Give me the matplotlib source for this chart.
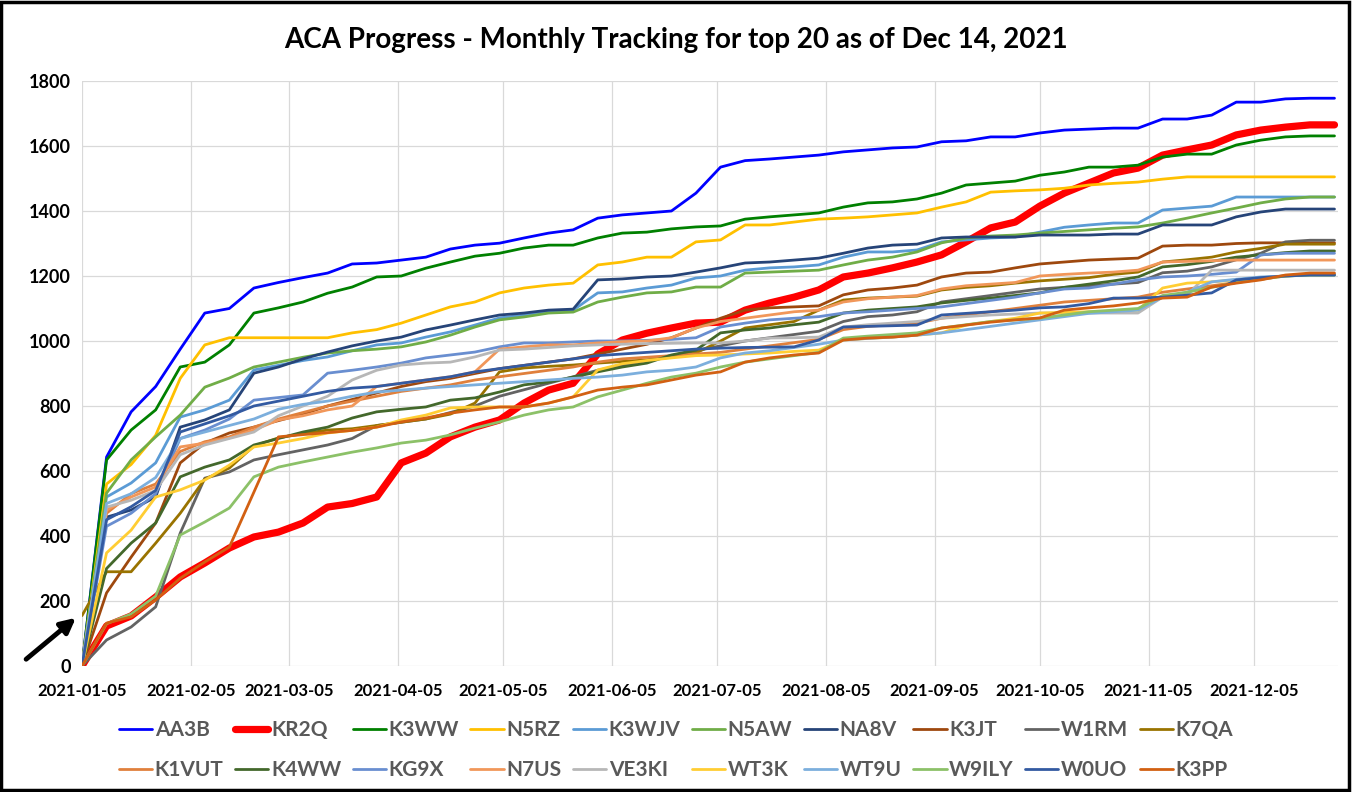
import datetime as dt
import matplotlib.pyplot as plt
from matplotlib.patches import Rectangle

plt.rcParams['font.family'] = ['Lato', 'DejaVu Sans']

# weekly snapshots, 2021-01-05 .. 2021-12-28
start = dt.date(2021, 1, 5)
weeks = [start + dt.timedelta(days=7 * i) for i in range(52)]
month_ticks = [dt.date(2021, m, 5) for m in range(1, 13)]

# =========================
# DATA (weekly cumulative totals)
# =========================
AA3B = [0, 643, 782, 860, 975, 1086, 1100, 1163, 1180, 1195,
        1209, 1237, 1240, 1249, 1258, 1283, 1295, 1301, 1317, 1332,
        1342, 1378, 1388, 1394, 1400, 1455, 1535, 1555, 1560, 1566,
        1572, 1582, 1588, 1594, 1597, 1613, 1616, 1628, 1628, 1640,
        1649, 1652, 1655, 1655, 1683, 1683, 1695, 1735, 1735, 1745,
        1747, 1747]
KR2Q = [0, 123, 154, 212, 274, 317, 363, 397, 412, 440,
        489, 500, 520, 625, 655, 705, 735, 757, 809, 849,
        870, 960, 1003, 1024, 1040, 1055, 1058, 1095, 1117, 1135,
        1157, 1197, 1209, 1225, 1243, 1265, 1305, 1348, 1366, 1415,
        1455, 1486, 1517, 1532, 1572, 1588, 1603, 1634, 1649, 1658,
        1665, 1665]
K3WW = [0, 634, 726, 788, 920, 935, 988, 1086, 1102, 1120,
        1147, 1166, 1197, 1200, 1224, 1243, 1261, 1270, 1286, 1295,
        1295, 1317, 1332, 1335, 1345, 1351, 1354, 1375, 1382, 1388,
        1394, 1412, 1425, 1428, 1437, 1455, 1480, 1486, 1492, 1510,
        1520, 1535, 1535, 1541, 1566, 1575, 1575, 1603, 1618, 1628,
        1631, 1631]
N5RZ = [0, 560, 620, 710, 885, 988, 1010, 1010, 1010, 1010,
        1010, 1025, 1035, 1055, 1080, 1105, 1120, 1148, 1163, 1172,
        1178, 1234, 1243, 1258, 1258, 1305, 1311, 1357, 1357, 1366,
        1375, 1378, 1382, 1388, 1394, 1412, 1428, 1458, 1462, 1465,
        1470, 1480, 1485, 1489, 1498, 1505, 1505, 1505, 1505, 1505,
        1505, 1505]
K3WJV = [0, 520, 563, 625, 766, 788, 818, 911, 925, 940,
         951, 970, 988, 994, 1012, 1028, 1049, 1071, 1080, 1089,
         1095, 1148, 1151, 1163, 1172, 1194, 1200, 1218, 1225, 1228,
         1234, 1258, 1274, 1274, 1280, 1305, 1311, 1317, 1320, 1335,
         1350, 1357, 1363, 1363, 1403, 1409, 1415, 1443, 1443, 1443,
         1443, 1443]
N5AW = [0, 532, 634, 705, 772, 858, 886, 920, 935, 950,
        963, 970, 975, 982, 997, 1018, 1043, 1065, 1074, 1086,
        1089, 1120, 1135, 1148, 1151, 1166, 1166, 1209, 1212, 1215,
        1218, 1234, 1249, 1258, 1274, 1302, 1317, 1323, 1326, 1332,
        1337, 1342, 1347, 1351, 1363, 1378, 1394, 1409, 1425, 1437,
        1443, 1443]
NA8V = [0, 458, 480, 520, 735, 757, 788, 901, 920, 945,
        966, 985, 1000, 1012, 1034, 1049, 1065, 1080, 1086, 1095,
        1098, 1188, 1191, 1197, 1200, 1212, 1225, 1240, 1243, 1249,
        1255, 1270, 1286, 1295, 1298, 1317, 1320, 1320, 1320, 1326,
        1326, 1326, 1329, 1329, 1357, 1357, 1357, 1382, 1397, 1406,
        1406, 1406]
K3JT = [0, 225, 335, 440, 625, 686, 717, 735, 755, 775,
        800, 820, 840, 860, 875, 885, 900, 915, 925, 935,
        945, 960, 975, 990, 1010, 1040, 1070, 1095, 1102, 1105,
        1108, 1142, 1157, 1163, 1172, 1197, 1209, 1212, 1225, 1237,
        1243, 1249, 1252, 1255, 1292, 1295, 1295, 1300, 1302, 1302,
        1302, 1302]
W1RM = [0, 80, 120, 182, 409, 578, 597, 634, 650, 665,
        680, 700, 740, 750, 760, 780, 800, 830, 850, 870,
        890, 910, 925, 940, 955, 970, 985, 1000, 1010, 1020,
        1030, 1060, 1075, 1080, 1090, 1120, 1130, 1140, 1150, 1160,
        1165, 1170, 1175, 1180, 1210, 1215, 1228, 1250, 1270, 1305,
        1310, 1310]
K7QA = [155, 290, 290, 378, 470, 575, 609, 677, 702, 715,
        726, 730, 740, 750, 760, 775, 809, 905, 917, 922,
        926, 932, 937, 942, 950, 963, 1000, 1040, 1050, 1060,
        1095, 1126, 1132, 1135, 1138, 1157, 1165, 1170, 1178, 1185,
        1190, 1195, 1205, 1212, 1243, 1250, 1258, 1274, 1285, 1298,
        1298, 1298]
K1VUT = [0, 470, 530, 560, 660, 690, 705, 735, 760, 780,
         800, 815, 830, 845, 855, 865, 880, 890, 900, 910,
         920, 935, 945, 950, 955, 960, 965, 975, 985, 995,
         1005, 1035, 1045, 1050, 1055, 1070, 1080, 1090, 1100, 1110,
         1120, 1125, 1130, 1135, 1150, 1160, 1170, 1180, 1190, 1200,
         1205, 1205]
K4WW = [0, 300, 378, 440, 582, 612, 634, 680, 700, 720,
        735, 763, 782, 790, 797, 818, 825, 843, 865, 874,
        889, 905, 920, 932, 957, 972, 1025, 1034, 1040, 1050,
        1058, 1086, 1095, 1100, 1105, 1117, 1125, 1132, 1140, 1148,
        1165, 1175, 1185, 1197, 1228, 1235, 1245, 1258, 1265, 1272,
        1277, 1277]
KG9X = [0, 430, 470, 530, 700, 726, 760, 818, 826, 834,
        901, 910, 920, 932, 948, 957, 966, 982, 994, 994,
        997, 1000, 1000, 1002, 1005, 1010, 1043, 1055, 1065, 1070,
        1075, 1086, 1090, 1095, 1100, 1105, 1115, 1125, 1135, 1148,
        1160, 1163, 1175, 1188, 1197, 1200, 1205, 1212, 1265, 1270,
        1270, 1270]
N7US = [0, 480, 520, 551, 674, 686, 702, 726, 757, 770,
        788, 800, 860, 870, 880, 890, 905, 975, 982, 988,
        988, 994, 998, 1000, 1010, 1040, 1060, 1070, 1080, 1090,
        1095, 1120, 1130, 1135, 1140, 1160, 1170, 1175, 1180, 1200,
        1205, 1209, 1212, 1218, 1243, 1245, 1247, 1249, 1249, 1249,
        1249, 1249]
VE3KI = [0, 489, 510, 540, 650, 680, 700, 720, 770, 800,
         830, 880, 910, 926, 932, 935, 951, 972, 975, 980,
         985, 988, 990, 992, 993, 994, 994, 1000, 1009, 1010,
         1012, 1043, 1050, 1055, 1060, 1070, 1075, 1080, 1083, 1086,
         1086, 1086, 1086, 1086, 1135, 1141, 1218, 1218, 1218, 1218,
         1218, 1218]
WT3K = [0, 348, 418, 520, 542, 572, 618, 674, 686, 700,
        717, 725, 735, 757, 772, 794, 797, 797, 797, 809,
        828, 911, 930, 940, 948, 955, 957, 960, 963, 968,
        972, 1003, 1008, 1012, 1018, 1025, 1049, 1060, 1070, 1086,
        1088, 1090, 1092, 1095, 1163, 1178, 1182, 1188, 1194, 1200,
        1203, 1203]
WT9U = [0, 500, 530, 580, 700, 720, 740, 760, 790, 805,
        815, 830, 843, 849, 855, 860, 865, 870, 875, 880,
        885, 889, 895, 905, 910, 920, 948, 963, 970, 980,
        990, 1003, 1008, 1012, 1018, 1025, 1035, 1045, 1055, 1065,
        1075, 1085, 1090, 1095, 1135, 1150, 1182, 1190, 1197, 1200,
        1203, 1203]
W9ILY = [0, 130, 160, 215, 403, 443, 486, 582, 612, 628,
         643, 658, 671, 686, 695, 711, 732, 751, 772, 788,
         797, 828, 849, 870, 889, 901, 920, 935, 945, 955,
         965, 1009, 1015, 1020, 1025, 1040, 1050, 1060, 1065, 1070,
         1080, 1090, 1095, 1100, 1140, 1150, 1165, 1180, 1190, 1200,
         1203, 1203]
W0UO = [0, 450, 490, 540, 720, 745, 770, 800, 815, 830,
        845, 855, 860, 870, 880, 890, 905, 915, 925, 935,
        945, 955, 960, 965, 970, 975, 978, 980, 981, 982,
        1003, 1043, 1045, 1047, 1049, 1080, 1085, 1090, 1095, 1102,
        1105, 1115, 1132, 1132, 1135, 1141, 1148, 1188, 1195, 1200,
        1203, 1203]
K3PP = [0, 132, 151, 203, 270, 320, 366, 535, 705, 712,
        718, 725, 735, 751, 763, 778, 788, 797, 797, 809,
        828, 849, 858, 865, 880, 895, 905, 935, 948, 957,
        963, 1003, 1009, 1012, 1018, 1040, 1049, 1058, 1065, 1071,
        1095, 1102, 1108, 1117, 1132, 1135, 1166, 1178, 1188, 1203,
        1209, 1209]

series = [
    ('AA3B', AA3B, '#0000FF'), ('KR2Q', KR2Q, '#FF0000'),
    ('K3WW', K3WW, '#008000'), ('N5RZ', N5RZ, '#FFC000'),
    ('K3WJV', K3WJV, '#5B9BD5'), ('N5AW', N5AW, '#70AD47'),
    ('NA8V', NA8V, '#264478'), ('K3JT', K3JT, '#9E480E'),
    ('W1RM', W1RM, '#636363'), ('K7QA', K7QA, '#997300'),
    ('K1VUT', K1VUT, '#E0803C'), ('K4WW', K4WW, '#43682B'),
    ('KG9X', KG9X, '#698ED0'), ('N7US', N7US, '#F1975A'),
    ('VE3KI', VE3KI, '#B7B7B7'), ('WT3K', WT3K, '#FFCD33'),
    ('WT9U', WT9U, '#7CAFDD'), ('W9ILY', W9ILY, '#8CC168'),
    ('W0UO', W0UO, '#335AA1'), ('K3PP', K3PP, '#D26012'),
]

# =========================
# PLOT
# =========================
fig = plt.figure(figsize=(13.52, 7.92), dpi=100)
ax = fig.add_axes([82 / 1352, 1 - 666 / 792, (1338 - 82) / 1352, (666 - 81) / 792])

handles = []
for name, vals, color in series:
    lw = 5.2 if name == 'KR2Q' else 2.0
    line, = ax.plot(weeks, vals, color=color, linewidth=lw, label=name,
                    solid_capstyle='round', solid_joinstyle='round')
    handles.append(line)

ax.set_ylim(0, 1800)
ax.set_yticks(range(0, 1801, 200))
ax.set_xlim(start, dt.date(2021, 12, 29))
ax.set_xticks(month_ticks)
ax.set_xticklabels([d.strftime('%Y-%m-%d') for d in month_ticks],
                   fontsize=12, fontweight='bold')
for lbl in ax.get_yticklabels():
    lbl.set_fontsize(13)
    lbl.set_fontweight('bold')
ax.tick_params(length=0, pad=8)
ax.tick_params(axis='x', pad=12)
ax.grid(True, color='#D9D9D9', linewidth=0.9)
ax.set_axisbelow(True)
for sp in ax.spines.values():
    sp.set_visible(False)

fig.text(0.5, 1 - 40 / 792, 'ACA Progress - Monthly Tracking for top 20 as of Dec 14, 2021',
         ha='center', va='center', fontsize=20, fontweight='bold')

# legend fills column-wise, so interleave the two rows
ncol = 10
order = [r * ncol + c for c in range(ncol) for r in range(2)]
leg = fig.legend([handles[i] for i in order], [series[i][0] for i in order],
                 loc='center', bbox_to_anchor=(0.500, 1 - 750 / 792), ncol=ncol,
                 frameon=False, handlelength=1.6, handletextpad=0.12,
                 columnspacing=0.55, labelspacing=0.95,
                 prop={'size': 15, 'weight': 'bold'}, labelcolor='#595959')

ax.annotate('', xy=(78 / 1352, 1 - 616 / 792), xycoords='figure fraction',
            xytext=(24 / 1352, 1 - 661 / 792), textcoords='figure fraction',
            arrowprops=dict(arrowstyle='-|>', color='black', lw=3.5,
                            mutation_scale=22))

fig.patches.append(Rectangle((0.001, 0.002), 0.997, 0.996, transform=fig.transFigure,
                             fill=False, edgecolor='black', linewidth=2.5))

fig.savefig('out.png', dpi=100)
